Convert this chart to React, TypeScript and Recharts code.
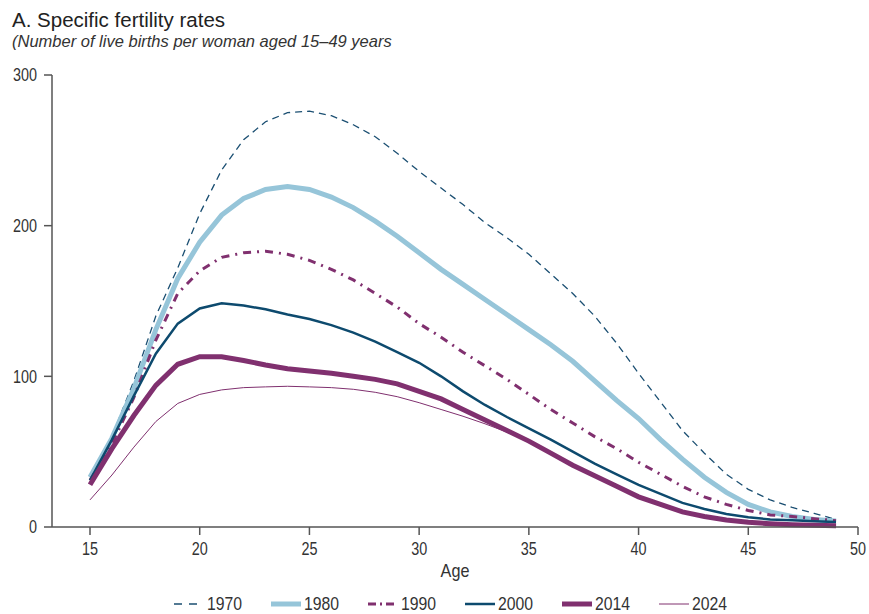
import React from 'react';
import { LineChart, Line, XAxis, YAxis, Legend } from 'recharts';

const ages = [15, 16, 17, 18, 19, 20, 21, 22, 23, 24, 25, 26, 27, 28, 29, 30, 31, 32, 33, 34, 35, 36, 37, 38, 39, 40, 41, 42, 43, 44, 45, 46, 47, 48, 49];

const y1970 = [33, 60, 97, 140, 172, 208, 237, 257, 269, 275, 276, 273, 267, 259, 248, 236, 225, 214, 202, 192, 181, 168, 155, 140, 122, 102, 83, 64, 49, 35, 25, 18, 13, 9, 5];
const y1980 = [33, 59, 92, 131, 165, 189, 207, 218, 224, 226, 224, 219, 212, 203, 193, 182, 171, 161, 151, 141, 131, 121, 110, 97, 84, 72, 58, 45, 33, 23, 15, 10, 7, 5, 4];
const y1990 = [31, 55, 86, 124, 155, 170, 179, 182, 183, 181, 177, 171, 164, 155, 146, 135, 126, 116, 107, 98, 88, 78, 69, 60, 52, 43, 35, 27, 20, 15, 11, 8, 7, 5.5, 4.2];
const y2000 = [31, 58, 87, 115, 135, 145, 148.5, 147, 144.5, 141, 138, 134, 129, 123, 116, 109, 100, 90, 81, 73, 65.5, 58, 50, 42, 35, 28, 22, 16, 12, 8.6, 6.4, 5, 4.4, 3.8, 3.3];
const y2014 = [28, 52, 74, 94, 108, 113, 113, 110.5, 107.5, 105, 103.5, 102, 100, 98, 95, 90, 85, 78, 71, 64, 57, 49, 41, 34, 27, 20, 15, 10, 7, 4.6, 3.1, 2.2, 1.5, 1.1, 0.9];
const y2024 = [18, 34.5, 53, 70, 82, 88, 91, 92.5, 93, 93.4, 93, 92.5, 91.4, 89.4, 86.5, 82.5, 78, 73.5, 68.5, 63, 56.5, 48.6, 40.8, 33.8, 26.8, 20, 14.6, 10.1, 6.9, 4.6, 3.1, 2.2, 1.5, 1.1, 0.8];

const xTicks = [15, 20, 25, 30, 35, 40, 45, 50];
const yTicks = [0, 100, 200, 300];

const title = 'A. Specific fertility rates';
const subtitle = '(Number of live births per woman aged 15\u201349 years';

const FONT = "'Liberation Sans', Arial, sans-serif";
const TEXT = '#333';

const data = ages.map((a, i) => ({
  age: a,
  s1970: y1970[i],
  s1980: y1980[i],
  s1990: y1990[i],
  s2000: y2000[i],
  s2014: y2014[i],
  s2024: y2024[i],
}));

const series = [
  { key: 's1970', name: '1970', color: '#1b4f72', width: 1.3, dash: '7 5' },
  { key: 's1980', name: '1980', color: '#96c5d9', width: 5, dash: undefined },
  { key: 's1990', name: '1990', color: '#80306f', width: 3, dash: '8 6 2 6' },
  { key: 's2000', name: '2000', color: '#0d4a6e', width: 2.5, dash: undefined },
  { key: 's2014', name: '2014', color: '#80306f', width: 5, dash: undefined },
  { key: 's2024', name: '2024', color: '#80306f', width: 1, dash: undefined },
];

const legendDash: Record<string, string | undefined> = {
  s1970: '8 7',
  s1990: '8 4 2 4',
};

const XTick = (p: any) => (
  <text
    transform={`translate(${p.x},${p.y}) scale(0.8,1)`}
    textAnchor="middle"
    dy="0.71em"
    fill={TEXT}
    fontSize={18}
    fontFamily={FONT}
  >
    {p.payload.value}
  </text>
);

const YTick = (p: any) => (
  <text
    transform={`translate(${p.x},${p.y}) scale(0.8,1)`}
    textAnchor="end"
    dy="0.355em"
    fill={TEXT}
    fontSize={18}
    fontFamily={FONT}
  >
    {p.payload.value}
  </text>
);

const AgeLabel = (p: any) => {
  const vb = p.viewBox;
  const cx = vb.x + vb.width / 2;
  const yy = vb.y + vb.height;
  return (
    <text
      transform={`translate(${cx},${yy}) scale(0.9,1)`}
      textAnchor="middle"
      fill={TEXT}
      fontSize={18}
      fontFamily={FONT}
    >
      Age
    </text>
  );
};

const renderLegend = () => (
  <div style={{ display: 'flex', justifyContent: 'center', gap: 28, paddingLeft: 44, paddingTop: 17, fontFamily: FONT, fontSize: 19, color: TEXT }}>
    {series.map((s) => (
      <div key={s.key} style={{ display: 'flex', alignItems: 'center', width: 69, height: 20, whiteSpace: 'nowrap' }}>
        <svg width={30} height={10} style={{ marginRight: 3, flex: 'none' }}>
          <line x1={0} y1={5} x2={30} y2={5} stroke={s.color} strokeWidth={Math.min(s.width, 5)} strokeDasharray={legendDash[s.key]} />
        </svg>
        <span style={{ display: 'inline-block', transform: 'scaleX(0.83)', transformOrigin: 'left center', lineHeight: '20px' }}>{s.name}</span>
      </div>
    ))}
  </div>
);

export default function App() {
  return (
    <div style={{ position: 'absolute', left: 0, top: 0, width: 869, height: 614, overflow: 'hidden', background: '#fff', fontFamily: FONT }}>
      <div style={{ position: 'absolute', left: 12, top: 10, fontSize: 20.5, lineHeight: '20px', color: '#222', whiteSpace: 'nowrap' }}>{title}</div>
      <div style={{ position: 'absolute', left: 12, top: 33, fontSize: 16.5, lineHeight: '17px', fontStyle: 'italic', color: TEXT, whiteSpace: 'nowrap' }}>{subtitle}</div>
      <div style={{ position: 'absolute', left: 0, top: 0 }}>
        <LineChart width={869} height={614} data={data} margin={{ top: 75, right: 11, bottom: 0, left: 0 }}>
          <XAxis
            dataKey="age"
            type="number"
            domain={[15, 50]}
            ticks={xTicks}
            padding={{ left: 38, right: 0 }}
            height={50}
            stroke="#555"
            strokeWidth={1.5}
            tickSize={8}
            tickMargin={7}
            tick={<XTick />}
            label={<AgeLabel />}
          />
          <YAxis
            domain={[0, 300]}
            ticks={yTicks}
            width={52}
            stroke="#555"
            strokeWidth={1.5}
            tickSize={8}
            tickMargin={7}
            tick={<YTick />}
          />
          <Legend verticalAlign="bottom" height={37} content={renderLegend} />
          {series.map((s) => (
            <Line
              key={s.key}
              dataKey={s.key}
              name={s.name}
              type="linear"
              stroke={s.color}
              strokeWidth={s.width}
              strokeDasharray={s.dash}
              dot={false}
              activeDot={false}
              isAnimationActive={false}
            />
          ))}
        </LineChart>
      </div>
    </div>
  );
}
